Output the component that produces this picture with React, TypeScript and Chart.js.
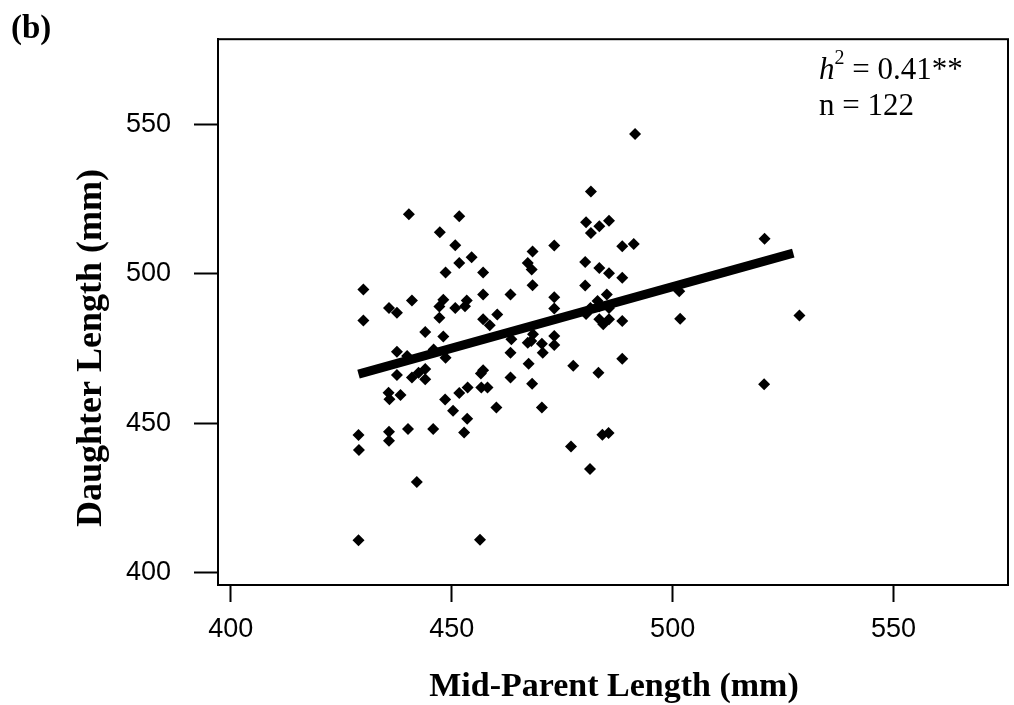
import React, { useEffect, useRef } from 'react';
import { Chart, registerables } from 'chart.js';

Chart.register(...registerables);

// Mid-parent length (mm) for each family
const midParent = [
  430.0, 430.0, 428.9, 429.0, 428.9, 435.8, 437.6, 441.0, 440.3, 437.6,
  439.9, 437.6, 435.7, 435.9, 438.4, 435.8, 435.8, 441.0, 442.5, 444.0,
  444.0, 440.1, 442.1, 444.0, 447.3, 450.8, 451.7, 454.5, 451.7, 448.6,
  457.1, 448.1, 447.2, 450.8, 453.4, 453.0, 457.1, 463.3, 447.2, 460.3,
  457.1, 458.6, 448.1, 468.3, 467.2, 468.1, 468.3, 448.6, 457.1, 456.6,
  463.3, 463.3, 467.4, 468.2, 448.5, 451.7, 453.6, 456.7, 458.1, 450.3,
  460.1, 453.5, 452.8, 445.8, 456.4, 445.9, 463.5, 467.2, 481.5, 480.4,
  483.4, 481.5, 485.6, 473.2, 488.6, 491.2, 480.2, 483.4, 485.6, 488.6,
  480.2, 473.2, 473.2, 485.1, 483.0, 481.4, 483.4, 485.6, 480.4, 483.4,
  484.3, 485.6, 488.6, 473.2, 473.2, 468.4, 468.0, 470.4, 470.6, 477.5,
  483.2, 488.6, 470.4, 484.1, 485.5, 477.0, 481.3, 491.5, 501.5, 501.7,
  520.8, 528.7, 520.7,
];

// Daughter length (mm) for each family
const daughterLen = [
  494.8, 484.4, 446.0, 441.0, 410.7, 488.6, 487.0, 491.1, 520.0, 473.9,
  472.5, 466.1, 460.2, 458.0, 459.4, 447.1, 444.1, 465.3, 466.9, 468.1,
  464.7, 448.0, 430.2, 480.5, 514.0, 509.6, 519.3, 505.6, 503.7, 500.5,
  500.5, 491.3, 489.1, 488.6, 491.1, 489.2, 493.1, 493.1, 485.3, 486.4,
  484.8, 482.8, 479.0, 507.5, 503.7, 501.5, 496.2, 471.9, 467.7, 466.6,
  465.3, 473.6, 469.9, 463.2, 457.9, 460.1, 461.9, 461.9, 461.9, 454.1,
  455.2, 451.4, 446.8, 448.0, 410.9, 474.7, 478.1, 476.9, 527.6, 517.3,
  516.0, 513.7, 517.8, 509.5, 509.3, 510.0, 504.0, 502.0, 500.2, 498.7,
  496.1, 492.2, 488.4, 493.1, 490.9, 488.6, 489.2, 488.6, 486.6, 484.8,
  483.1, 484.8, 484.2, 479.2, 476.2, 479.8, 477.5, 476.6, 473.6, 469.2,
  466.9, 471.6, 455.2, 446.1, 446.7, 442.1, 434.6, 546.9, 494.2, 485.0,
  511.8, 486.1, 463.0,
];

// Regression line end points
const fitX = [428.9, 527.3];
const fitY = [466.4, 507.0];

const xTickValues = [400, 450, 500, 550];
const yTickValues = [400, 450, 500, 550];

const xTitle = 'Mid-Parent Length (mm)';
const yTitle = 'Daughter Length (mm)';
const panelLabel = '(b)';
const h2Value = ' = 0.41**';
const nLabel = 'n = 122';

const SERIF = '"Liberation Serif", "Times New Roman", serif';
const SANS = '"Liberation Sans", Arial, sans-serif';

const decorPlugin = {
  id: 'decor',
  afterDraw(chart: any) {
    const { ctx, chartArea: a } = chart;
    ctx.save();
    ctx.strokeStyle = '#000';
    ctx.lineWidth = 2;
    ctx.strokeRect(a.left, a.top, a.right - a.left, a.bottom - a.top);

    ctx.fillStyle = '#000';
    ctx.textBaseline = 'alphabetic';

    // panel label
    ctx.textAlign = 'left';
    ctx.font = `bold 33px ${SERIF}`;
    ctx.fillText(panelLabel, 11, 38);

    // x title
    ctx.textAlign = 'center';
    ctx.font = `bold 34px ${SERIF}`;
    ctx.fillText(xTitle, 614, 696);

    // y title
    ctx.save();
    ctx.translate(101, 348);
    ctx.rotate(-Math.PI / 2);
    ctx.textAlign = 'center';
    ctx.font = `bold 36px ${SERIF}`;
    ctx.fillText(yTitle, 0, 0);
    ctx.restore();

    // annotation
    ctx.textAlign = 'left';
    let x = 819;
    ctx.font = `italic 31px ${SERIF}`;
    ctx.fillText('h', x, 79);
    x += ctx.measureText('h').width;
    ctx.font = `20px ${SERIF}`;
    ctx.fillText('2', x, 64);
    x += ctx.measureText('2').width;
    ctx.font = `31px ${SERIF}`;
    ctx.fillText(h2Value, x, 79);
    ctx.fillText(nLabel, 819, 115);
    ctx.restore();
  },
};

export default function App() {
  const ref = useRef<HTMLCanvasElement | null>(null);

  useEffect(() => {
    document.body.style.margin = '0';
    const canvas = ref.current;
    if (!canvas) return;
    const points = midParent.map((v, i) => ({ x: v, y: daughterLen[i] }));
    const line = fitX.map((v, i) => ({ x: v, y: fitY[i] }));

    const chart = new Chart(canvas, {
      type: 'scatter',
      data: {
        datasets: [
          {
            type: 'line',
            data: line,
            borderColor: '#000',
            borderWidth: 9,
            pointRadius: 0,
            fill: false,
            order: 0,
            borderCapStyle: 'butt',
          } as any,
          {
            type: 'scatter',
            data: points,
            pointStyle: 'rectRot',
            pointRadius: 6,
            backgroundColor: '#000',
            borderColor: '#000',
            borderWidth: 0,
            order: 1,
          } as any,
        ],
      },
      options: {
        responsive: false,
        animation: false,
        devicePixelRatio: 1,
        layout: { padding: { top: 37, right: 1, left: 0, bottom: 0 } },
        plugins: { legend: { display: false }, tooltip: { enabled: false } },
        scales: {
          x: {
            type: 'linear',
            min: 397.1,
            max: 575.9,
            afterBuildTicks: (s: any) => {
              s.ticks = xTickValues.map((v) => ({ value: v }));
            },
            afterFit: (s: any) => {
              s.height = 120;
            },
            ticks: {
              autoSkip: false,
              maxRotation: 0,
              color: '#000',
              padding: 11,
              font: { family: SANS, size: 27 },
            },
            grid: {
              drawOnChartArea: false,
              drawTicks: true,
              tickLength: 17,
              tickWidth: 2,
              tickColor: '#000',
            },
            border: { display: true, color: '#000', width: 2 },
          },
          y: {
            type: 'linear',
            min: 395.7,
            max: 578.7,
            afterBuildTicks: (s: any) => {
              s.ticks = yTickValues.map((v) => ({ value: v }));
            },
            afterFit: (s: any) => {
              s.width = 218;
            },
            ticks: {
              autoSkip: false,
              color: '#000',
              padding: 23,
              font: { family: SANS, size: 27 },
            },
            grid: {
              drawOnChartArea: false,
              drawTicks: true,
              tickLength: 24,
              tickWidth: 2,
              tickColor: '#000',
            },
            border: { display: true, color: '#000', width: 2 },
          },
        },
      },
      plugins: [decorPlugin],
    });
    return () => chart.destroy();
  }, []);

  return (
    <div style={{ position: 'fixed', left: 0, top: 0, width: 1014, height: 705, background: '#fff' }}>
      <canvas ref={ref} width={1014} height={705} style={{ width: 1014, height: 705, display: 'block' }} />
    </div>
  );
}
